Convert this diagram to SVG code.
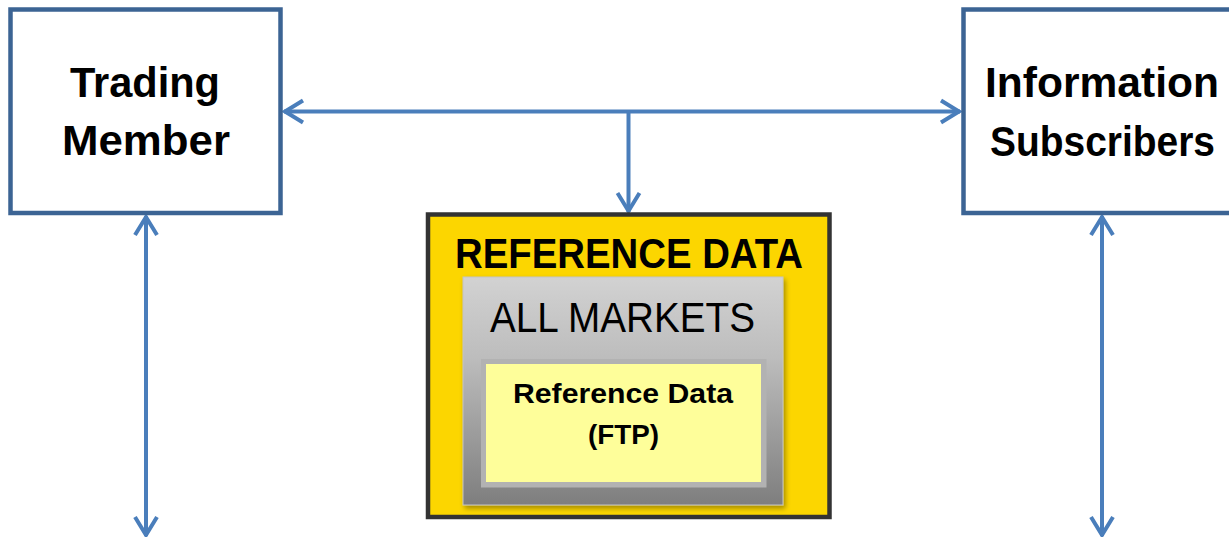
<svg xmlns="http://www.w3.org/2000/svg" width="1229" height="537" viewBox="0 0 1229 537">
<style>
.box{fill:#fff;stroke:#3c6494;stroke-width:4.5}
.conn{fill:none;stroke:#4a7ebb;stroke-width:4;marker-start:url(#arr);marker-end:url(#arr)}
.t{font-family:"Liberation Sans",Arial,sans-serif;font-weight:bold;fill:#000;text-anchor:middle}
</style>
<defs>
<marker id="arr" markerUnits="userSpaceOnUse" viewBox="-24 -14 28 28" refX="0" refY="0" markerWidth="28" markerHeight="28" orient="auto-start-reverse">
<path d="M-19,-11 L-1,0 L-19,11" fill="none" stroke="#4a7ebb" stroke-width="4" stroke-linejoin="miter"/>
</marker>
<marker id="arr1" markerUnits="userSpaceOnUse" viewBox="-24 -14 28 28" refX="0" refY="0" markerWidth="28" markerHeight="28" orient="auto">
<path d="M-19,-11 L-1,0 L-19,11" fill="none" stroke="#4a7ebb" stroke-width="4"/>
</marker>
<linearGradient id="gray" x1="0" y1="0" x2="0" y2="1">
<stop offset="0" stop-color="#d2d2d2"/>
<stop offset="0.35" stop-color="#bdbdbd"/>
<stop offset="1" stop-color="#7e7e7e"/>
</linearGradient>
<filter id="sh" x="-10%" y="-10%" width="120%" height="120%">
<feDropShadow dx="2" dy="3" stdDeviation="2.5" flood-color="#000" flood-opacity="0.35"/>
</filter>
</defs>

<g id="connectors">
<path class="conn" d="M284,111.5 H960"/>
<path d="M628.5,111.5 V212" fill="none" stroke="#4a7ebb" stroke-width="4" marker-end="url(#arr1)"/>
<path class="conn" d="M146,216 V536"/>
<path class="conn" d="M1102,216 V536"/>
</g>

<g id="trading-member">
<rect class="box" x="10.5" y="9.5" width="270" height="203.5"/>
<text class="t" x="145" y="97" font-size="42" textLength="150" lengthAdjust="spacingAndGlyphs">Trading</text>
<text class="t" x="146" y="155" font-size="42" textLength="168" lengthAdjust="spacingAndGlyphs">Member</text>
</g>

<g id="information-subscribers">
<rect class="box" x="963.5" y="9.5" width="280" height="203.5"/>
<text class="t" x="1102" y="97" font-size="42" textLength="234" lengthAdjust="spacingAndGlyphs">Information</text>
<text class="t" x="1102.5" y="156" font-size="42" textLength="225" lengthAdjust="spacingAndGlyphs">Subscribers</text>
</g>

<g id="reference-data">
<rect x="428" y="214.5" width="401.5" height="302.5" fill="#fcd600" stroke="#333333" stroke-width="4.5"/>
<text class="t" x="629" y="268" font-size="42" textLength="348" lengthAdjust="spacingAndGlyphs">REFERENCE DATA</text>
<g id="all-markets">
<rect x="463" y="277" width="320" height="228" fill="url(#gray)" stroke="#c4c4c4" stroke-width="1" filter="url(#sh)"/>
<text class="t" x="622.5" y="331.5" font-size="42" style="font-weight:normal" textLength="265" lengthAdjust="spacingAndGlyphs">ALL MARKETS</text>
</g>
<g id="reference-data-ftp">
<rect x="481" y="359" width="285.5" height="128.5" fill="#b2b2b2"/>
<rect x="486" y="364" width="275" height="118" fill="#fefe9a"/>
<text class="t" x="623" y="403" font-size="28" textLength="220" lengthAdjust="spacingAndGlyphs">Reference Data</text>
<text class="t" x="623.5" y="444" font-size="28" textLength="71" lengthAdjust="spacingAndGlyphs">(FTP)</text>
</g>
</g>
</svg>
